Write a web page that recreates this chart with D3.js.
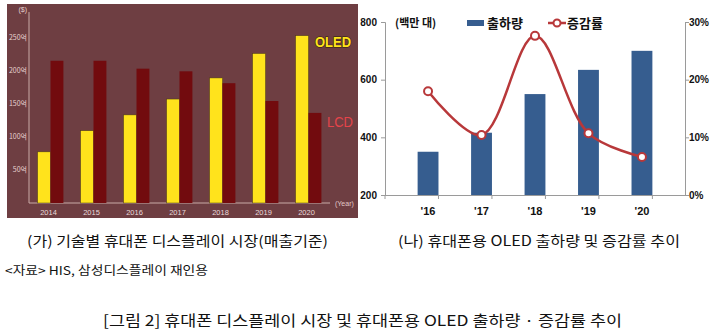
<!DOCTYPE html>
<html><head><meta charset="utf-8">
<script src="https://cdn.jsdelivr.net/npm/d3@7"></script>
<style>body{margin:0;background:#fff}svg{display:block}</style>
</head><body>
<svg id="c" width="720" height="336"></svg>
<script>
// ---- data: left chart
const years = ["2014","2015","2016","2017","2018","2019","2020"];
const oledSales = [76,108,132,156,188,225,252];
const lcdSales = [214,214,202,198,180,153,135];
const leftTicks = [50,100,150,200,250];
const leftTickLabels = ["50억","100억","150억","200억","250억"];
// ---- data: right chart
const periods = ["'16","'17","'18","'19","'20"];
const shipments = [350,416,550,634,700];
const growth = [18.0,10.4,27.6,10.7,6.6];
const rightLeftTicks = [200,400,600,800];
const rightRightTicks = [0,10,20,30];

const svg = d3.select("#c");
svg.append("rect").attr("width",720).attr("height",336).attr("fill","#fff");
const kr = "'Noto Sans CJK KR','Noto Sans',sans-serif";
const sans = "'Liberation Sans',Arial,sans-serif";

// ================= LEFT CHART =================
const L = svg.append("g");
L.append("rect").attr("x",7).attr("y",4).attr("width",351).attr("height",214).attr("fill","#6e3e42");
const ly = d3.scaleLinear().domain([0,250]).range([202,37]);
const lx0 = d3.scaleBand().domain(years).range([29,330]).paddingInner(0.4).paddingOuter(0.2);
const lx1 = d3.scaleBand().domain(["OLED","LCD"]).range([0,lx0.bandwidth()]);
const axisCol = "#c9aaa6";
L.append("line").attr("x1",29).attr("x2",29).attr("y1",12).attr("y2",203).attr("stroke",axisCol).attr("stroke-width",1);
L.append("line").attr("x1",29).attr("x2",330).attr("y1",203).attr("y2",203).attr("stroke",axisCol).attr("stroke-width",1);
leftTicks.forEach((t,i)=>{
  L.append("text").attr("x",27).attr("y",ly(t)+2.5).attr("text-anchor","end")
   .attr("font-family",kr).attr("font-size",7).attr("fill","#e8d2d0").text(leftTickLabels[i]);
});
L.append("text").attr("x",27).attr("y",12).attr("text-anchor","end").attr("font-family",sans)
 .attr("font-size",7).attr("fill","#e8d2d0").text("($)");
const gL = L.selectAll("g.yr").data(years).join("g").attr("transform",d=>`translate(${lx0(d)},0)`);
gL.append("rect").attr("x",lx1("OLED")).attr("width",lx1.bandwidth())
  .attr("y",(d,i)=>ly(oledSales[i])).attr("height",(d,i)=>203-ly(oledSales[i]))
  .attr("fill","#ffe31c").attr("stroke","#4a3a14").attr("stroke-width",0.5);
gL.append("rect").attr("x",lx1("LCD")).attr("width",lx1.bandwidth())
  .attr("y",(d,i)=>ly(lcdSales[i])).attr("height",(d,i)=>203-ly(lcdSales[i]))
  .attr("fill","#720b0e");
years.forEach(y=>{
  L.append("text").attr("x",lx0(y)+lx0.bandwidth()/2-2).attr("y",215).attr("text-anchor","middle")
   .attr("font-family",sans).attr("font-size",7.5).attr("fill","#eadada").text(y);
});
L.append("text").attr("x",335).attr("y",206).attr("font-family",sans).attr("font-size",7)
 .attr("fill","#e0c8c6").text("(Year)");
L.append("text").attr("x",315).attr("y",46.5).attr("font-family",sans).attr("font-size",15).attr("font-weight","bold")
 .attr("fill","#ffe31c").attr("stroke","#2e2006").attr("stroke-width",1.2).attr("paint-order","stroke")
 .attr("textLength",36).attr("lengthAdjust","spacingAndGlyphs").text("OLED");
L.append("text").attr("x",327).attr("y",126.5).attr("font-family",sans).attr("font-size",15)
 .attr("fill","#e4444a").attr("textLength",26).attr("lengthAdjust","spacingAndGlyphs").text("LCD");

// ================= RIGHT CHART =================
const R = svg.append("g");
const rx = d3.scaleBand().domain(periods).range([385,685]).padding(0.61);
const ry = d3.scaleLinear().domain([200,800]).range([195,22]);
const ry2 = d3.scaleLinear().domain([0,30]).range([195,22]);
const gray = "#9a9a9a";
const yAxisL = d3.axisLeft(ry).tickValues(rightLeftTicks).tickSize(4).tickFormat(d3.format("d"));
const aL = R.append("g").attr("transform","translate(385,0)").call(yAxisL);
const yAxisR = d3.axisRight(ry2).tickValues(rightRightTicks).tickSize(4).tickFormat(d=>d+"%");
const aR = R.append("g").attr("transform","translate(685,0)").call(yAxisR);
[aL,aR].forEach(a=>{
  a.select(".domain").attr("stroke",gray).attr("stroke-width",1);
  a.selectAll(".tick line").attr("stroke",gray);
  a.selectAll("text").attr("font-family",sans).attr("font-size",10).attr("font-weight","bold").attr("fill","#111");
});
aL.selectAll(".domain").attr("d","M-4,22.5H0.5V195.5H-4");
aR.selectAll(".domain").attr("d","M4,22.5H0.5V195.5H4");
aL.selectAll("text").attr("x",-8);
aR.selectAll("text").attr("x",4);
// x axis
R.append("line").attr("x1",385).attr("x2",685).attr("y1",195.5).attr("y2",195.5).attr("stroke",gray);
const bounds = d3.range(periods.length+1).map(i=>385+i*rx.step());
bounds.forEach(b=>R.append("line").attr("x1",b).attr("x2",b).attr("y1",195.5).attr("y2",199).attr("stroke",gray));
// bars
R.selectAll("rect.bar").data(periods).join("rect").attr("class","bar")
 .attr("x",d=>rx(d)).attr("width",rx.bandwidth())
 .attr("y",(d,i)=>ry(shipments[i])).attr("height",(d,i)=>195-ry(shipments[i]))
 .attr("fill","#365d8f");
// line
const pts = periods.map((p,i)=>[rx(p)+rx.bandwidth()/2, ry2(growth[i])]);
R.append("path").attr("d",d3.line().curve(d3.curveCatmullRom.alpha(0.5))(pts))
 .attr("fill","none").attr("stroke","#b8383a").attr("stroke-width",2.5);
R.selectAll("circle.m").data(pts).join("circle").attr("class","m")
 .attr("cx",d=>d[0]).attr("cy",d=>d[1]).attr("r",4)
 .attr("fill","#fff").attr("stroke","#b8383a").attr("stroke-width",2);
// x labels
periods.forEach(p=>{
  R.append("text").attr("x",rx(p)+rx.bandwidth()/2).attr("y",215).attr("text-anchor","middle")
   .attr("font-family",sans).attr("font-size",11).attr("font-weight","bold").attr("fill","#111").text(p);
});
// unit + legend
R.append("text").attr("x",395).attr("y",27).attr("font-family",kr).attr("font-size",11).attr("font-weight","bold")
 .attr("fill","#111").text("(백만 대)");
R.append("rect").attr("x",467).attr("y",20).attr("width",17).attr("height",6).attr("fill","#365d8f");
R.append("text").attr("x",487).attr("y",28).attr("font-family",kr).attr("font-size",13).attr("font-weight","bold")
 .attr("fill","#111").text("출하량");
R.append("line").attr("x1",548).attr("x2",566).attr("y1",23).attr("y2",23).attr("stroke","#b8383a").attr("stroke-width",2.5);
R.append("circle").attr("cx",557).attr("cy",23).attr("r",3.5).attr("fill","#fff").attr("stroke","#b8383a").attr("stroke-width",2);
R.append("text").attr("x",567).attr("y",28).attr("font-family",kr).attr("font-size",13).attr("font-weight","bold")
 .attr("fill","#111").text("증감률");

// ================= CAPTIONS =================
const cap = (x,y,s,size,len,anchor)=>{
  const t = svg.append("text").attr("x",x).attr("y",y).attr("font-family",kr).attr("font-size",size)
   .attr("fill","#111").text(s);
  if(anchor) t.attr("text-anchor",anchor);
  if(len) t.attr("textLength",len).attr("lengthAdjust","spacingAndGlyphs");
};
cap(27,246,"(가) 기술별 휴대폰 디스플레이 시장(매출기준)",14,301);
cap(398,246,"(나) 휴대폰용 OLED 출하량 및 증감률 추이",14,282);
cap(5,275,"<자료> HIS, 삼성디스플레이 재인용",12,203);
cap(103,326,"[그림 2] 휴대폰 디스플레이 시장 및 휴대폰용 OLED 출하량 · 증감률 추이",15,519);
</script>
</body></html>
